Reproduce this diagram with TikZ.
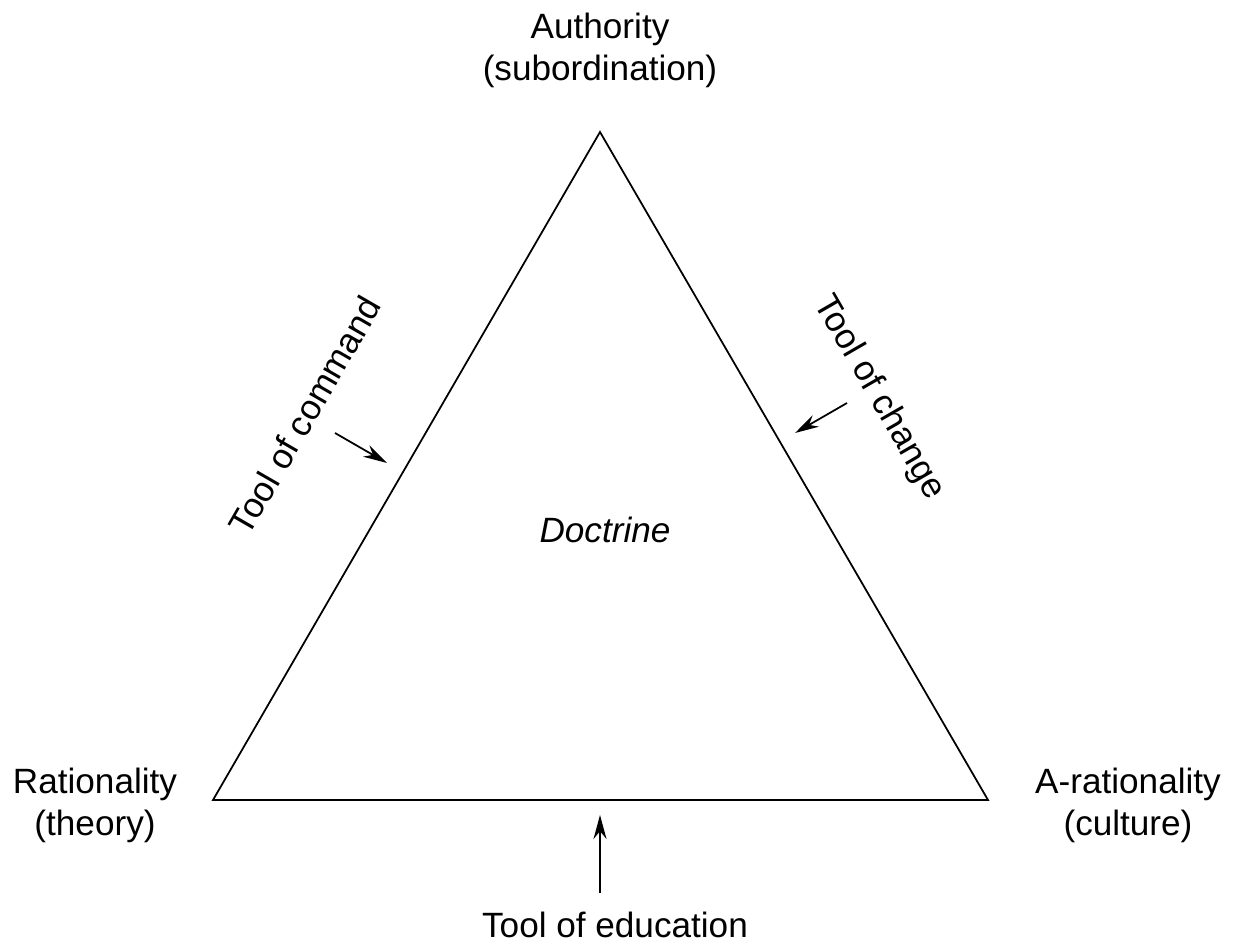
\documentclass[tikz,border=0pt]{standalone}
\usepackage{fontspec}
\setmainfont{Liberation Sans}
\usetikzlibrary{arrows.meta}

\begin{document}
\begin{tikzpicture}
        \useasboundingbox (0,0) rectangle (12.33,9.46);
		\coordinate (top) at (6.00,8.14);
		\coordinate (left) at (2.13,1.46);
		\coordinate (right) at (9.88,1.46);
        \draw [line width=0.5pt] (top) -- (left) -- (right) -- cycle;
		\node[align=center] (auth) at (6.00,8.96) {Authority\\(subordination)};
		\node[align=center] (rat) at (0.95,1.41) {Rationality\\(theory)};
		\node[align=center] (arat) at (11.28,1.41) {A-rationality\\(culture)};
		\node (doc) at (6.05,4.16) {\itshape Doctrine};
		\node[rotate=60] (cmd) at (3.05,5.31) {Tool of command};
		\node[rotate=-60] (chg) at (8.79,5.48) {Tool of change};
		\node (edu) at (6.15,0.21) {Tool of education};
        \coordinate (c1) at (3.35,5.13);
        \coordinate (c2) at (3.87,4.83);
        \coordinate (h1) at (8.47,5.43);
        \coordinate (h2) at (7.95,5.13);
        \coordinate (e1) at (6.00,0.53);
        \coordinate (e2) at (6.00,1.31);
        \draw [line width=0.5pt,-{Stealth[length=2.4mm,width=1.3mm]}] (c1) -- (c2);
        \draw [line width=0.5pt,-{Stealth[length=2.4mm,width=1.3mm]}] (h1) -- (h2);
        \draw [line width=0.5pt,-{Stealth[length=2.4mm,width=1.3mm]}] (e1) -- (e2);
		\end{tikzpicture}
\end{document}
